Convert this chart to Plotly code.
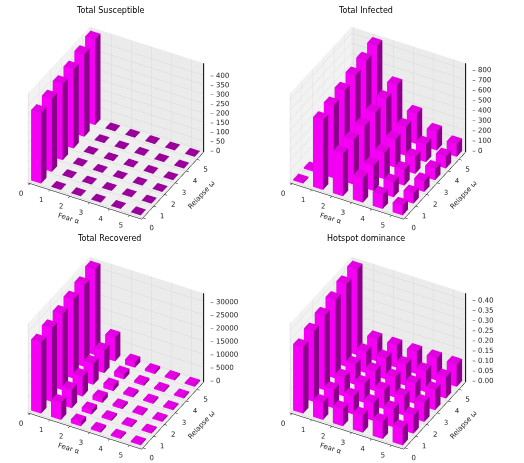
import math
import plotly.graph_objects as go

fear = [0, 1, 2, 3, 4, 5]
relapse = [0, 1, 2, 3, 4, 5]
fear_ticks = ["0", "1", "2", "3", "4", "5"]
relapse_ticks = ["0", "1", "2", "3", "4", "5"]

# rows: fear alpha, columns: relapse omega
susceptible = [
    [375, 390, 405, 420, 440, 455],
    [0, 0, 0, 0, 0, 0],
    [0, 0, 0, 0, 0, 0],
    [0, 0, 0, 0, 0, 0],
    [0, 0, 0, 0, 0, 0],
    [0, 0, 0, 0, 0, 0],
]
infected = [
    [10, 14, 16, 18, 20, 22],
    [690, 720, 750, 785, 815, 845],
    [420, 440, 460, 480, 500, 520],
    [240, 250, 262, 275, 288, 300],
    [140, 148, 156, 165, 175, 185],
    [95, 100, 106, 112, 118, 124],
]
recovered = [
    [27000, 28000, 29000, 30000, 31000, 32500],
    [6500, 7000, 7500, 8000, 8500, 9000],
    [1500, 1600, 1700, 1800, 1900, 2000],
    [700, 720, 740, 760, 780, 800],
    [500, 510, 520, 530, 540, 550],
    [400, 410, 420, 430, 440, 450],
]
hotspot = [
    [0.33, 0.35, 0.37, 0.39, 0.41, 0.425],
    [0.085, 0.09, 0.095, 0.1, 0.105, 0.11],
    [0.085, 0.09, 0.095, 0.1, 0.105, 0.11],
    [0.085, 0.09, 0.095, 0.1, 0.105, 0.11],
    [0.085, 0.09, 0.095, 0.1, 0.105, 0.11],
    [0.085, 0.09, 0.095, 0.1, 0.105, 0.11],
]

susceptible_zticks = [0, 50, 100, 150, 200, 250, 300, 350, 400]
infected_zticks = [0, 100, 200, 300, 400, 500, 600, 700, 800]
recovered_zticks = [0, 5000, 10000, 15000, 20000, 25000, 30000]
hotspot_zticks = [0, 0.05, 0.1, 0.15, 0.2, 0.25, 0.3, 0.35, 0.4]
hotspot_zlabels = ["0.00", "0.05", "0.10", "0.15", "0.20", "0.25", "0.30", "0.35", "0.40"]

panels = [
    ("Total Susceptible", susceptible, susceptible_zticks, [str(t) for t in susceptible_zticks]),
    ("Total Infected", infected, infected_zticks, [str(t) for t in infected_zticks]),
    ("Total Recovered", recovered, recovered_zticks, [str(t) for t in recovered_zticks]),
    ("Hotspot dominance", hotspot, hotspot_zticks, hotspot_zlabels),
]

BAR = 0.5
TOP = "#e000e0"
FRONT = "#f500f5"
SIDE = "#8a008a"
BOTTOM = "#9a009a"
FONT = "DejaVu Sans"
TXT = dict(family=FONT, size=7, color="#262626")

# cube corners and faces (triangles) with their colour role
CORNERS = [(0, 0, 0), (1, 0, 0), (1, 1, 0), (0, 1, 0),
           (0, 0, 1), (1, 0, 1), (1, 1, 1), (0, 1, 1)]
FACES = [((0, 1, 2), "bottom"), ((0, 2, 3), "bottom"),
         ((4, 5, 6), "top"), ((4, 6, 7), "top"),
         ((0, 1, 5), "front"), ((0, 5, 4), "front"),
         ((3, 2, 6), "front"), ((3, 6, 7), "front"),
         ((0, 3, 7), "side"), ((0, 7, 4), "side"),
         ((1, 2, 6), "side"), ((1, 6, 5), "side")]


def bars_mesh(values, scene):
    xs, ys, zs, ii, jj, kk, colors = [], [], [], [], [], [], []
    for a, f in enumerate(fear):
        for b, w in enumerate(relapse):
            h = values[a][b]
            base = len(xs)
            for cx, cy, cz in CORNERS:
                xs.append(f + cx * BAR)
                ys.append(w + cy * BAR)
                zs.append(cz * h)
            for (p, q, r), role in FACES:
                ii.append(base + p)
                jj.append(base + q)
                kk.append(base + r)
                if role == "top":
                    colors.append(TOP if h > 0 else BOTTOM)
                elif role == "front":
                    colors.append(FRONT)
                elif role == "side":
                    colors.append(SIDE)
                else:
                    colors.append(BOTTOM)
    return go.Mesh3d(x=xs, y=ys, z=zs, i=ii, j=jj, k=kk, facecolor=colors,
                     flatshading=True, scene=scene, hoverinfo="skip",
                     lighting=dict(ambient=1, diffuse=0, specular=0,
                                   roughness=1, fresnel=0))


def text3d(x, y, z, labels, pos, scene):
    return go.Scatter3d(x=x, y=y, z=z, mode="text", text=labels,
                        textposition=pos, textfont=TXT,
                        scene=scene, hoverinfo="skip")


# close to matplotlib's default view (elev 30, azim -60 with perspective)
elev, azim, dist = math.radians(36), math.radians(-61.5), 2.0
# look-at point moved to the right of the box so the box sits left of centre;
# the eye moves with it so the viewing direction stays the same
shift, lift = 0.14, 0.0
center = dict(x=shift * -math.sin(azim), y=shift * math.cos(azim), z=lift)
eye = dict(x=center["x"] + dist * math.cos(elev) * math.cos(azim),
           y=center["y"] + dist * math.cos(elev) * math.sin(azim),
           z=center["z"] + dist * math.sin(elev))

fig = go.Figure()
domains = [([0.0, 0.5], [0.496, 0.972]), ([0.5, 1.0], [0.496, 0.972]),
           ([0.0, 0.5], [0.0, 0.476]), ([0.5, 1.0], [0.0, 0.476])]
title_pos = [(0.21, 0.978), (0.697, 0.978), (0.208, 0.484), (0.699, 0.484)]

axis_common = dict(showbackground=True, gridcolor="#d9d9d9", gridwidth=1,
                   showline=True, linecolor="black", linewidth=1,
                   ticks="outside", ticklen=3, tickcolor="black",
                   showticklabels=False, showspikes=False, zeroline=False)

for n, (title, values, zticks, zlabels) in enumerate(panels):
    scene = "scene" if n == 0 else f"scene{n + 1}"
    fig.add_trace(bars_mesh(values, scene))
    zmax = max(max(row) for row in values)
    pad = zmax / 48
    xmax = len(fear) - 1 + BAR
    ymax = len(relapse) - 1 + BAR
    xpad = xmax / 48
    # z axis drawn on the right-hand corner, as matplotlib does
    fig.add_trace(go.Scatter3d(x=[xmax + xpad] * 2, y=[ymax + xpad] * 2,
                               z=[-pad, zmax + pad], mode="lines",
                               line=dict(color="black", width=2),
                               scene=scene, hoverinfo="skip"))
    fig.add_trace(text3d([xmax + xpad] * len(zticks), [ymax + xpad] * len(zticks),
                         zticks, ["– " + t for t in zlabels], "middle right", scene))
    fig.add_trace(text3d(fear, [-xpad] * len(fear), [-pad] * len(fear),
                         fear_ticks, "bottom left", scene))
    fig.add_trace(text3d([xmax + xpad] * len(relapse), relapse, [-pad] * len(relapse),
                         relapse_ticks, "bottom right", scene))
    fig.update_layout({scene: dict(
        domain=dict(x=domains[n][0], y=domains[n][1]),
        xaxis=dict(axis_common, range=[-xpad, xmax + xpad], tickvals=fear,
                   backgroundcolor="#f2f2f2",
                   title=dict(text="Fear α", font=TXT)),
        yaxis=dict(axis_common, range=[-xpad, ymax + xpad], tickvals=relapse,
                   backgroundcolor="#ebebeb",
                   title=dict(text="Relapse ω", font=TXT)),
        zaxis=dict(axis_common, range=[-pad, zmax + pad], tickvals=zticks,
                   ticks="", showline=False,
                   backgroundcolor="#efefef", title=dict(text="")),
        # in orthographic mode the aspect ratio sets the on-screen size
        aspectmode="manual", aspectratio=dict(x=1.18, y=1.18, z=1.0),
        camera=dict(eye=eye, up=dict(x=0, y=0, z=1), center=center,
                    projection=dict(type="orthographic")),
    )})
    fig.add_annotation(text=title, x=title_pos[n][0], y=title_pos[n][1],
                       xref="paper", yref="paper", showarrow=False,
                       xanchor="center", yanchor="middle",
                       font=dict(family=FONT, size=8, color="black"))

fig.update_layout(width=524, height=463, margin=dict(l=0, r=0, t=0, b=0),
                  paper_bgcolor="white", showlegend=False)
# drop the browser's default page margin so the figure starts at the corner
fig.write_html("out.html", config={"displayModeBar": False},
               post_script="document.body.style.margin = '0';")
